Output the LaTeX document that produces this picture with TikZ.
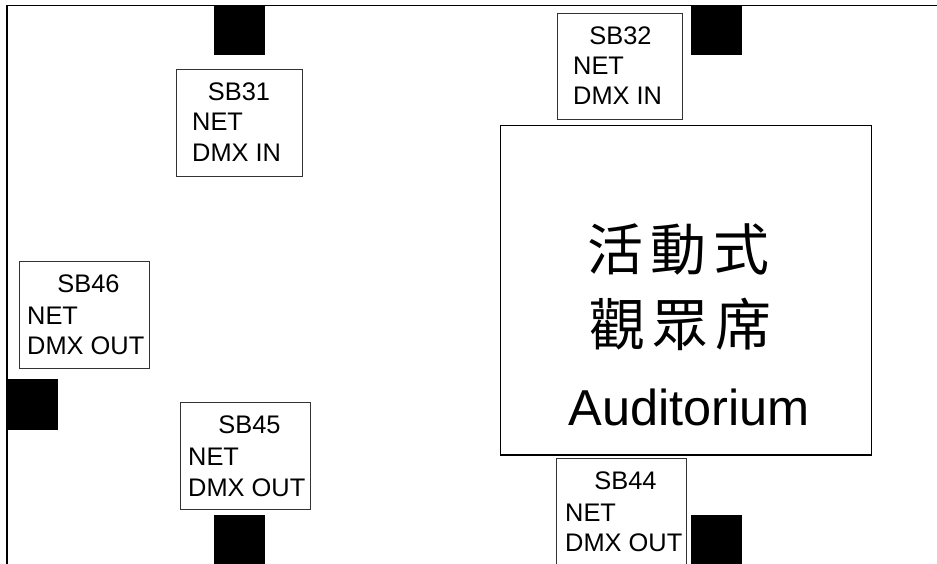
\documentclass[tikz,border=0pt]{standalone}
\usepackage{fontspec}
\setmainfont{Liberation Sans}
\newfontfamily\cjkfont{Noto Sans CJK TC}
\usetikzlibrary{positioning}
\tikzset{
  wall/.style={line width=1.5pt},
  speaker/.style={fill=black, draw=none, inner sep=0pt, outer sep=0pt, minimum width=50.5pt, minimum height=50.5pt, anchor=north west},
  sbbox/.style={draw=black!80, line width=1pt, inner sep=0pt, outer sep=0pt, minimum width=130pt, minimum height=107pt, anchor=north west},
  sbname/.style={inner sep=0pt, font=\fontsize{25.4}{30}\selectfont, anchor=base},
  sbline/.style={inner sep=0pt, font=\fontsize{25.4}{30}\selectfont, anchor=base west}
}
\begin{document}
\begin{tikzpicture}[x=1pt, y=-1pt]
      \clip (0,0) rectangle (937,564);
      \fill[white] (0,0) rectangle (937,564);
      \coordinate (wallbottom) at (7,564);
      \coordinate (wallcorner) at (7,5.5);
      \coordinate (wallright) at (937,5.5);
      \draw[wall] (wallbottom) -- (wallcorner) -- (wallright);
      % black squares
      \node[speaker] (spk31) at (214,5) {};
      \node[speaker] (spk32) at (691,5) {};
      \node[speaker] (spk46) at (7,379) {};
      \node[speaker] (spk45) at (214,515) {};
      \node[speaker] (spk44) at (691,515) {};
      % auditorium
      \node[draw, line width=1.3pt, inner sep=0pt, outer sep=0pt, minimum width=371pt, minimum height=329.5pt, anchor=north west] (aud) at (500.5,125.5) {};
      \node[anchor=base, inner sep=0pt, font=\cjkfont\fontsize{56}{60}\selectfont] (audzh1) at (678,270) {活\kern7pt 動\kern7pt 式};
      \node[anchor=base, inner sep=0pt, font=\cjkfont\fontsize{56}{60}\selectfont] (audzh2) at (680,345) {觀\kern7pt 眾\kern7pt 席};
      \node[anchor=base, inner sep=0pt, font=\fontsize{50.5}{60}\selectfont] (auden) at (689,425) {Auditorium};
      % SB31
      \node[sbbox, minimum width=125.5pt] (sb31) at (176.5,69.5) {};
      \node[sbname] (sb31name) at (239,100.5) {SB31};
      \node[sbline] (sb31net) at (192,130.5) {NET};
      \node[sbline] (sb31dmx) at (192,161.5) {DMX IN};
      % SB32
      \node[sbbox, minimum width=125pt, minimum height=106.5pt] (sb32) at (557.5,13.5) {};
      \node[sbname] (sb32name) at (620.5,44.5) {SB32};
      \node[sbline] (sb32net) at (573,74.5) {NET};
      \node[sbline] (sb32dmx) at (573,105) {DMX IN};
      % SB46
      \node[sbbox] (sb46) at (19,261) {};
      \node[sbname] (sb46name) at (88.5,292) {SB46};
      \node[sbline] (sb46net) at (27,324) {NET};
      \node[sbline] (sb46dmx) at (27,354.5) {DMX OUT};
      % SB45
      \node[sbbox, minimum height=106.5pt] (sb45) at (180,402.5) {};
      \node[sbname] (sb45name) at (249.5,433.5) {SB45};
      \node[sbline] (sb45net) at (188,465) {NET};
      \node[sbline] (sb45dmx) at (188,496) {DMX OUT};
      % SB44
      \node[sbbox, minimum height=120pt] (sb44) at (556.5,458.5) {};
      \node[sbname] (sb44name) at (625.5,489.5) {SB44};
      \node[sbline] (sb44net) at (565,521) {NET};
      \node[sbline] (sb44dmx) at (565,551.5) {DMX OUT};
    \end{tikzpicture}
\end{document}
